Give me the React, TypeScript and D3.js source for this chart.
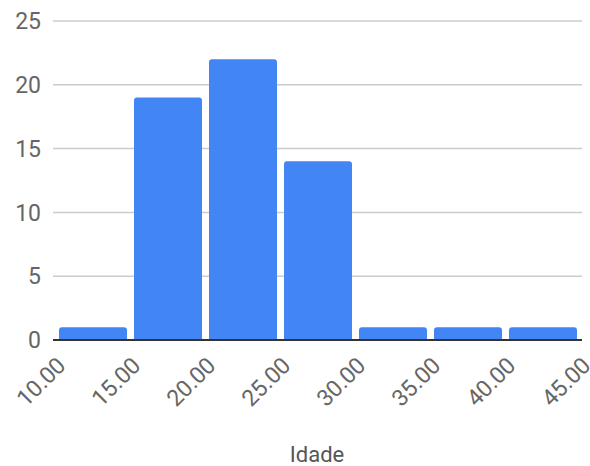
import React from "react";
import * as d3 from "d3";

const binStarts = [10, 15, 20, 25, 30, 35, 40];
const counts = [1, 19, 22, 14, 1, 1, 1];
const edgeLabels = ["10.00", "15.00", "20.00", "25.00", "30.00", "35.00", "40.00", "45.00"];
const yTicks = [0, 5, 10, 15, 20, 25];
const xTitle = "Idade";

const W = 590;
const H = 466;
const FONT = "Roboto, Arial, sans-serif";

export default function App() {
  const x = d3.scaleLinear().domain([10, 45]).range([55.5, 580.5]);
  const y = d3.scaleLinear().domain([0, 25]).range([340, 21]);
  const gap = 3.5;
  const r = 3;

  const barPath = (x0: number, x1: number, yTop: number, yBot: number) => {
    const rr = Math.min(r, (yBot - yTop) / 2);
    const p = d3.path();
    p.moveTo(x0, yBot);
    p.lineTo(x0, yTop + rr);
    p.quadraticCurveTo(x0, yTop, x0 + rr, yTop);
    p.lineTo(x1 - rr, yTop);
    p.quadraticCurveTo(x1, yTop, x1, yTop + rr);
    p.lineTo(x1, yBot);
    p.closePath();
    return p.toString();
  };

  return (
    <svg
      width={W}
      height={H}
      style={{ position: "absolute", left: 0, top: 0, background: "#fff" }}
      fontFamily={FONT}
    >
      {yTicks.map((t) => (
        <g key={t}>
          {t !== 0 && (
            <line x1={53} x2={582} y1={y(t)} y2={y(t)} stroke="#cccccc" strokeWidth={1.5} />
          )}
          <text x={41} y={y(t)} dy="0.36em" textAnchor="end" fontSize={23} fill="#666">
            {t}
          </text>
        </g>
      ))}
      {binStarts.map((b, i) => (
        <path
          key={b}
          d={barPath(x(b) + gap, x(b + 5) - gap, y(counts[i]), y(0))}
          fill="#4285f4"
        />
      ))}
      <line x1={53} x2={582} y1={y(0)} y2={y(0)} stroke="#333" strokeWidth={2} />
      {edgeLabels.map((l, i) => {
        const px = x(10 + i * 5) + 11.5;
        const py = 367;
        return (
          <text
            key={l}
            transform={`translate(${px},${py}) rotate(-45)`}
            textAnchor="end"
            fontSize={23}
            fill="#666"
          >
            {l}
          </text>
        );
      })}
      <text x={317} y={462} textAnchor="middle" fontSize={22} fill="#555">
        {xTitle}
      </text>
    </svg>
  );
}
